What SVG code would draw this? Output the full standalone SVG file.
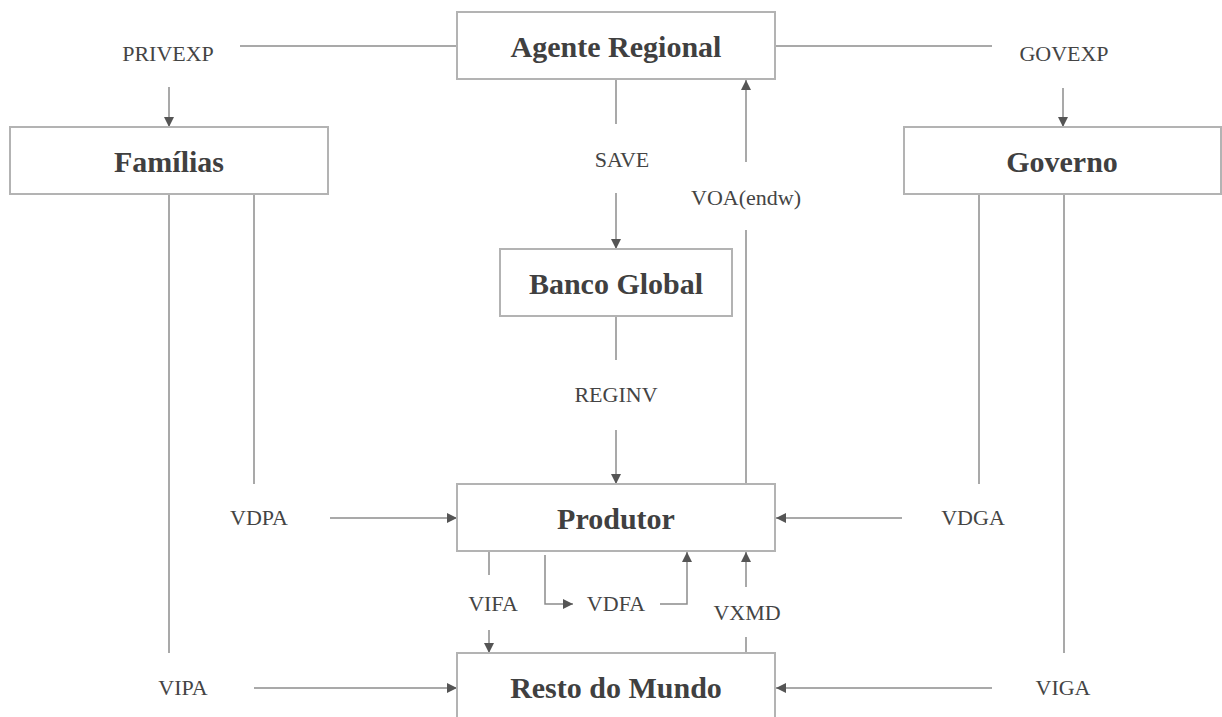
<svg xmlns="http://www.w3.org/2000/svg" width="1222" height="717" viewBox="0 0 1222 717" font-family="Liberation Serif, Times New Roman, serif">
<defs>
<marker id="ah" viewBox="0 0 10 10" refX="10" refY="5" markerWidth="10" markerHeight="10" markerUnits="userSpaceOnUse" orient="auto">
<path d="M0,0 L10,5 L0,10 Z" fill="#555"/>
</marker>
<style>
.box{fill:#fff;stroke:#b3b3b3;stroke-width:2}
.t{font-weight:bold;font-size:30px;fill:#404040;text-anchor:middle}
.l{font-size:22px;fill:#444;text-anchor:middle}
.c{fill:none;stroke:#8c8c8c;stroke-width:1.5}
.a{fill:none;stroke:#8c8c8c;stroke-width:1.5;marker-end:url(#ah)}
</style>
</defs>
<rect width="1222" height="717" fill="#fff"/>
<g id="connectors">
<line class="c" x1="240" y1="46" x2="457" y2="46"/>
<line class="a" x1="169" y1="87" x2="169" y2="127"/>
<line class="c" x1="775" y1="46" x2="992" y2="46"/>
<line class="a" x1="1063" y1="88" x2="1063" y2="127"/>
<line class="c" x1="616" y1="79" x2="616" y2="124"/>
<line class="a" x1="616" y1="193" x2="616" y2="249"/>
<line class="a" x1="746" y1="162" x2="746" y2="80"/>
<line class="c" x1="746" y1="230" x2="746" y2="484"/>
<line class="c" x1="616" y1="316" x2="616" y2="360"/>
<line class="a" x1="616" y1="430" x2="616" y2="484"/>
<line class="c" x1="169" y1="194" x2="169" y2="653"/>
<line class="c" x1="254" y1="194" x2="254" y2="484"/>
<line class="a" x1="330" y1="518" x2="457" y2="518"/>
<line class="a" x1="254" y1="688" x2="457" y2="688"/>
<line class="c" x1="979" y1="194" x2="979" y2="484"/>
<line class="c" x1="1064" y1="194" x2="1064" y2="653"/>
<line class="a" x1="902" y1="518" x2="776" y2="518"/>
<line class="a" x1="992" y1="688" x2="776" y2="688"/>
<line class="c" x1="489" y1="551" x2="489" y2="575"/>
<line class="a" x1="489" y1="630" x2="489" y2="653"/>
<polyline class="a" points="545,555 545,604 573,604"/>
<polyline class="a" points="660,604 687,604 687,552"/>
<line class="c" x1="746" y1="653" x2="746" y2="637"/>
<line class="a" x1="746" y1="587" x2="746" y2="552"/>
</g>
<g id="agente-regional"><rect class="box" x="457" y="12" width="318" height="67"/><text class="t" x="616" y="57">Agente Regional</text></g>
<g id="familias"><rect class="box" x="10" y="127" width="318" height="67"/><text class="t" x="169" y="172">Famílias</text></g>
<g id="governo"><rect class="box" x="904" y="127" width="317" height="67"/><text class="t" x="1062" y="172">Governo</text></g>
<g id="banco-global"><rect class="box" x="500" y="249" width="232" height="67"/><text class="t" x="616" y="294">Banco Global</text></g>
<g id="produtor"><rect class="box" x="457" y="484" width="318" height="67"/><text class="t" x="616" y="529">Produtor</text></g>
<g id="resto-do-mundo"><rect class="box" x="457" y="653" width="318" height="70"/><text class="t" x="616" y="698">Resto do Mundo</text></g>
<g id="labels">
<text class="l" x="168" y="61">PRIVEXP</text>
<text class="l" x="1064" y="61">GOVEXP</text>
<text class="l" x="622" y="167">SAVE</text>
<text class="l" x="746" y="205">VOA(endw)</text>
<text class="l" x="616" y="402">REGINV</text>
<text class="l" x="259" y="525">VDPA</text>
<text class="l" x="973" y="525">VDGA</text>
<text class="l" x="493" y="611">VIFA</text>
<text class="l" x="616" y="611">VDFA</text>
<text class="l" x="747" y="620">VXMD</text>
<text class="l" x="183" y="695">VIPA</text>
<text class="l" x="1063" y="695">VIGA</text>
</g>
</svg>
